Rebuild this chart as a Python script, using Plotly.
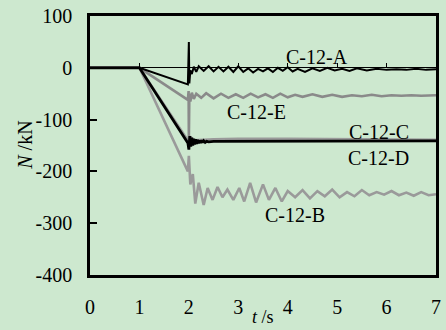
import plotly.graph_objects as go

# ---- data ----
tA = [0, 1, 1.98, 2.0, 2.01, 2.03, 2.06, 2.1, 2.15, 2.2, 2.3, 2.4, 2.5, 2.6, 2.7, 2.8, 2.9, 3.0, 3.1, 3.2,
      3.3, 3.4, 3.5, 3.6, 3.7, 3.8, 3.9, 4.0, 4.1, 4.2, 4.35, 4.5, 4.65, 4.8, 4.95, 5.1, 5.25, 5.4, 5.6,
      5.8, 6.0, 6.2, 6.4, 6.6, 6.8, 7.0]
nA = [0, 0, -32, 50, -30, -5, -12, 2, -8, 3, -6, 3, -7, 2, -7, 2, -8, 3, -8, -1,
      -9, -2, -7, -1, -8, 0, -6, 1, -7, -2, -8, -1, -6, 0, -5, -2, -6, -1, -5,
      -2, -4, -3, -4, -2, -4, -3]

tB = [0, 1, 1.98, 2.0, 2.03, 2.08, 2.13, 2.2, 2.3, 2.38, 2.48, 2.58, 2.68, 2.78, 2.9, 3.02, 3.12, 3.24,
      3.36, 3.5, 3.62, 3.75, 3.88, 4.0, 4.15, 4.3, 4.45, 4.6, 4.75, 4.9, 5.05, 5.2, 5.35, 5.5, 5.65, 5.8,
      5.95, 6.1, 6.25, 6.4, 6.55, 6.7, 6.85, 7.0]
nB = [0, 0, -200, -170, -225, -205, -262, -222, -265, -232, -255, -230, -250, -235, -255, -232, -258, -222,
      -260, -225, -255, -232, -258, -238, -250, -236, -252, -238, -248, -235, -250, -240, -248, -236, -246, -240,
      -245, -238, -246, -241, -247, -240, -246, -244]

tC = [0, 1, 1.98, 2.0, 2.02, 2.04, 2.06, 2.08, 2.1, 2.12, 2.14, 2.16, 2.18, 2.2, 2.22, 2.24, 2.26, 2.28,
      2.3, 2.33, 2.36, 2.4, 2.5, 3.0, 4.0, 5.0, 6.0, 7.0]
nC = [0, 0, -145, -158, -132, -152, -135, -150, -137, -148, -138, -147, -139, -146, -140, -145, -140, -144,
      -141, -144, -142, -143, -142, -142, -142, -141, -141, -141]

tD = [0, 1, 1.98, 2.0, 2.05, 2.1, 2.5, 3.0, 4.0, 5.0, 6.0, 7.0]
nD = [0, 0, -140, -150, -135, -140, -138, -137, -137, -138, -138, -139]

tE = [0, 1, 1.98, 1.995, 2.0, 2.01, 2.03, 2.06, 2.1, 2.15, 2.25, 2.35, 2.5, 2.65, 2.8, 2.95, 3.1, 3.25,
      3.4, 3.55, 3.7, 3.85, 4.0, 4.15, 4.3, 4.5, 4.7, 4.9, 5.1, 5.3, 5.5, 5.7, 5.9, 6.1, 6.3, 6.5, 6.7, 7.0]
nE = [0, 0, -62, -45, -140, -50, -65, -48, -60, -50, -58, -49, -59, -50, -58, -51, -58, -50,
      -57, -51, -58, -50, -57, -52, -56, -51, -56, -52, -56, -53, -55, -52, -55, -53, -54, -53, -54, -53]

labels = ["C-12-A", "C-12-E", "C-12-C", "C-12-D", "C-12-B"]
label_t = [4.59, 3.37, 5.84, 5.84, 4.15]
label_n = [20, -85, -123, -175, -285]

x_ticks = [0, 1, 2, 3, 4, 5, 6, 7]
x_tick_text = ["0", "1", "2", "3", "4", "5", "6", "7"]
y_ticks = [-400, -300, -200, -100, 0, 100]
y_tick_text = ["-400", "-300", "-200", "-100", "0", "100"]
zero_ticks = [1, 2, 3, 4, 5, 6]

FONT = "Liberation Serif, Times New Roman, serif"
BG = "#cde8cf"

fig = go.Figure()
fig.add_trace(go.Scatter(x=tB, y=nB, mode="lines", line=dict(color="#9a9a9a", width=2.6)))
fig.add_trace(go.Scatter(x=tD, y=nD, mode="lines", line=dict(color="#9a9a9a", width=2.4)))
fig.add_trace(go.Scatter(x=tE, y=nE, mode="lines", line=dict(color="#8a8a8a", width=2.6)))
fig.add_trace(go.Scatter(x=tA, y=nA, mode="lines", xaxis="x2", line=dict(color="black", width=2)))
fig.add_trace(go.Scatter(x=tC, y=nC, mode="lines", line=dict(color="black", width=2.8)))

for lab, tx, ny in zip(labels, label_t, label_n):
    fig.add_annotation(x=tx, y=ny, text=lab, showarrow=False, font=dict(family=FONT, size=20, color="black"))

fig.add_annotation(x=-0.19, y=0.5, xref="paper", yref="paper", xanchor="center", yanchor="middle",
                   text="<i>N</i> /kN", textangle=-90, showarrow=False,
                   font=dict(family=FONT, size=20, color="black"))
fig.add_annotation(x=0.5, y=-0.115, xref="paper", yref="paper", xanchor="center", yanchor="top",
                   text="<i>t</i> /s", showarrow=False,
                   font=dict(family=FONT, size=18, color="black"))

fig.update_layout(
    width=446, height=330,
    margin=dict(l=90, r=5, t=13, b=55),
    paper_bgcolor=BG, plot_bgcolor=BG,
    showlegend=False,
    font=dict(family=FONT, size=20, color="black"),
    xaxis=dict(range=[0, 7], tickvals=x_ticks, ticktext=x_tick_text, ticks="", showgrid=False, zeroline=False,
               showline=True, linecolor="black", linewidth=2.5, mirror=True,
               ticklabelstandoff=12, tickfont=dict(family=FONT, size=20)),
    xaxis2=dict(range=[0, 7], overlaying="x", anchor="free", position=0.8, side="top",
                tickvals=zero_ticks, ticks="outside", ticklen=5, tickwidth=1, tickcolor="black",
                showticklabels=False, showgrid=False, zeroline=False, showline=False),
    yaxis=dict(range=[-400, 100], tickvals=y_ticks, ticktext=y_tick_text, ticks="inside", ticklen=7,
               tickwidth=1.5, tickcolor="black",
               showgrid=False, zeroline=True, zerolinecolor="black", zerolinewidth=1,
               showline=True, linecolor="black", linewidth=2.5, mirror=True,
               ticklabelstandoff=11, tickfont=dict(family=FONT, size=20)),
)

fig.write_html("out.html")
